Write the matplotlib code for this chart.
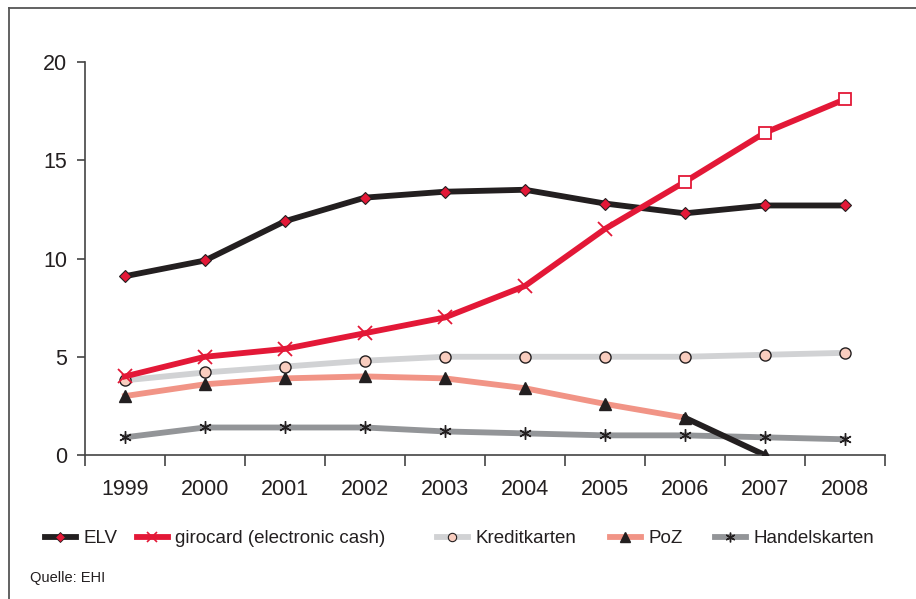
import matplotlib
matplotlib.use("Agg")
from matplotlib import pyplot as plt
from matplotlib.lines import Line2D

plt.rcParams['font.family'] = ['Liberation Sans', 'DejaVu Sans']

years = ['1999', '2000', '2001', '2002', '2003', '2004', '2005', '2006', '2007', '2008']
elv = [9.1, 9.9, 11.9, 13.1, 13.4, 13.5, 12.8, 12.3, 12.7, 12.7]
girocard = [4.0, 5.0, 5.4, 6.2, 7.0, 8.6, 11.5, 13.9, 16.4, 18.1]
kreditkarten = [3.8, 4.2, 4.5, 4.8, 5.0, 5.0, 5.0, 5.0, 5.1, 5.2]
poz = [3.0, 3.6, 3.9, 4.0, 3.9, 3.4, 2.6, 1.9, 0.0]
handelskarten = [0.9, 1.4, 1.4, 1.4, 1.2, 1.1, 1.0, 1.0, 0.9, 0.8]
y_ticks = [0, 5, 10, 15, 20]

BLACK = '#231f20'
RED = '#e31837'
LIGHTGRAY = '#d1d2d4'
PEACH = '#f9cdbf'
SALMON = '#f19486'
GRAY = '#939598'
LW = 4.2

fig = plt.figure(figsize=(9.16, 5.99), dpi=100)
ax = fig.add_axes([0.0928, 0.2404, 0.873, 0.656])
x = list(range(len(years)))

# Handelskarten
ax.plot(x, handelskarten, color=GRAY, lw=LW, zorder=2)
ax.plot(x, handelskarten, ls='none', marker=(6, 2, 0), ms=9, mec=BLACK, mew=1.0, zorder=3)

# PoZ: salmon line up to 2006, black drop to 2007
ax.plot(x[:8], poz[:8], color=SALMON, lw=LW, zorder=2)
ax.plot(x[7:9], poz[7:9], color=BLACK, lw=LW, zorder=2)
ax.plot(x[:9], poz, ls='none', marker='^', ms=8, color=BLACK, zorder=3)

# Kreditkarten
ax.plot(x, kreditkarten, color=LIGHTGRAY, lw=LW, zorder=2)
ax.plot(x, kreditkarten, ls='none', marker='o', ms=8, mfc=PEACH, mec=BLACK, mew=1.0, zorder=3)

# ELV
ax.plot(x, elv, color=BLACK, lw=LW, zorder=4)
ax.plot(x, elv, ls='none', marker='D', ms=6, mfc=RED, mec=BLACK, mew=0.8, zorder=5)

# girocard: x markers, squares from 2006 on
ax.plot(x, girocard, color=RED, lw=LW, zorder=4)
ax.plot(x[:7], girocard[:7], ls='none', marker='x', ms=10, mec=RED, mew=1.3, zorder=5)
ax.plot(x[7:], girocard[7:], ls='none', marker='s', ms=9, mfc='white', mec=RED, mew=1.3, zorder=5)

ax.set_xlim(-0.5, len(years) - 0.5)
ax.set_ylim(0, 20)
ax.set_yticks(y_ticks)
ax.set_xticks([i + 0.5 for i in range(-1, len(years))], minor=False)
ax.set_xticklabels([])
ax.set_xticks(x, minor=True)
ax.set_xticklabels(years, minor=True)
ax.tick_params(axis='x', which='major', length=8, width=1.2, color='#444444', direction='out')
ax.tick_params(axis='x', which='minor', length=0, pad=17, labelsize=15.5, labelcolor='#231f20')
ax.tick_params(axis='y', length=6, width=1.2, color='#444444', pad=7, labelsize=15.5, labelcolor='#231f20')
for s in ['top', 'right']:
    ax.spines[s].set_visible(False)
for s in ['left', 'bottom']:
    ax.spines[s].set_color('#444444')
    ax.spines[s].set_linewidth(1.2)

# legend entries, each placed on its own
entries = [
    ('ELV', dict(color=BLACK, marker='D', ms=5, mfc=RED, mec=BLACK, mew=0.6), 45),
    ('girocard (electronic cash)', dict(color=RED, marker='x', ms=7, mec=RED, mew=1.2), 137),
    ('Kreditkarten', dict(color=LIGHTGRAY, marker='o', ms=6, mfc=PEACH, mec=BLACK, mew=0.8), 437),
    ('PoZ', dict(color=SALMON, marker='^', ms=7, mfc=BLACK, mec=BLACK), 610),
    ('Handelskarten', dict(color=GRAY, marker=(6, 2, 0), ms=7, mec=BLACK, mew=1.0), 715),
]
for label, style, xpix in entries:
    h = Line2D([], [], lw=LW, **style)
    fig.legend(handles=[h], labels=[label], loc='center left', bbox_to_anchor=(xpix / 916, 0.101),
               frameon=False, handlelength=1.65, handletextpad=0.4, borderpad=0, borderaxespad=0,
               fontsize=13.5, labelcolor='#231f20')

fig.text(0.033, 0.035, 'Quelle: EHI', fontsize=10.5, color='#231f20', va='center')

# outer frame
fig.add_artist(Line2D([8.5 / 916, 1], [1 - 7.5 / 599] * 2, color='#555555', lw=1.3, transform=fig.transFigure))
fig.add_artist(Line2D([8.5 / 916] * 2, [0, 1 - 7.5 / 599], color='#555555', lw=1.3, transform=fig.transFigure))

fig.savefig('out.png', dpi=100)
